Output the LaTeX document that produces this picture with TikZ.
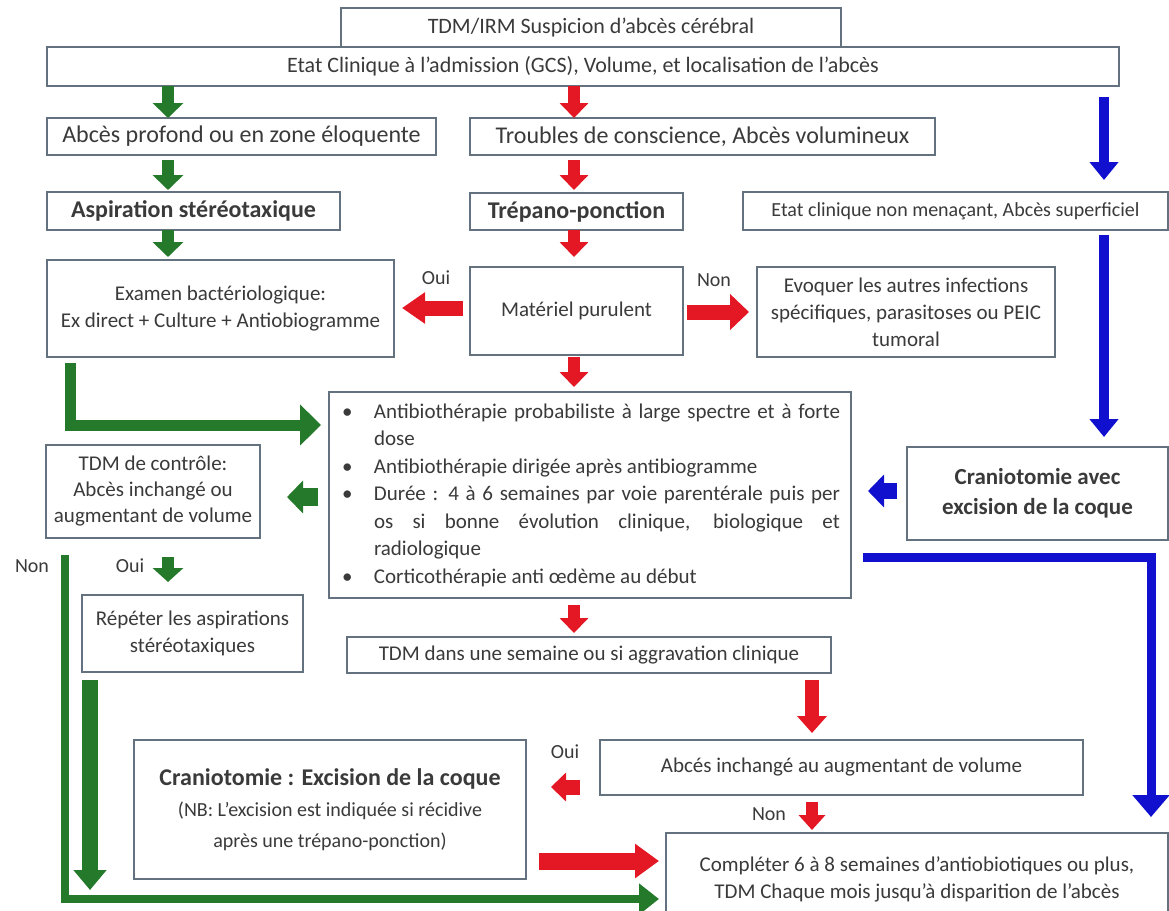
\documentclass[tikz,border=0pt]{standalone}
\usepackage{fontspec}
\setmainfont{Carlito}
\usetikzlibrary{arrows.meta}
\definecolor{gcol}{RGB}{36,122,42}
\definecolor{rcol}{RGB}{228,24,36}
\definecolor{bcol}{RGB}{16,16,206}
\definecolor{bord}{RGB}{100,114,128}
\definecolor{txt}{RGB}{58,58,58}
\newcommand\fsz[2]{\fontsize{#1}{#2}\selectfont}
\newcommand\itm[1]{\par\noindent\hangindent=34pt\hangafter=1\makebox[34pt][l]{\hspace{2pt}\textbullet}#1}
\tikzset{
  box/.style={draw=bord, line width=2pt, fill=white, anchor=north west, inner sep=0pt, outer sep=0pt, text=txt, align=center},
  lbl/.style={text=txt, inner sep=0pt, font=\fsz{20}{24}},
  sg/.style={gcol, line width=12pt, line join=miter, -{Triangle[width=30pt,length=15pt]}},
  sr/.style={rcol, line width=12pt, line join=miter, -{Triangle[width=28pt,length=15pt]}},
  sb/.style={bcol, line width=10pt, line join=miter, -{Triangle[width=28pt,length=18pt]}}
}
\begin{document}
\begin{tikzpicture}[x=1pt,y=-1pt]
\useasboundingbox[fill=white] (0,0) rectangle (1169,910);

% column / row helpers
\coordinate (cG) at (168,0);
\coordinate (cR) at (574,0);
\coordinate (cB) at (1104,0);
\coordinate (cE) at (70,0);
\coordinate (cO) at (65,0);
\coordinate (cI) at (90,0);
\coordinate (cR2) at (812,0);
\coordinate (cBr) at (1151,0);
\coordinate (rOui) at (0,308);
\coordinate (rNon) at (0,312);
\coordinate (rE) at (0,425);
\coordinate (rC) at (0,497);
\coordinate (rBl) at (0,491);
\coordinate (rBh) at (0,557);
\coordinate (rBot) at (0,899);
\coordinate (rOui2) at (0,787);
\coordinate (rRed) at (0,861);
\coordinate (gjoin) at (90,890);

% boxes
\node[box,minimum width=500pt,minimum height=39pt,font=\fsz{22}{26}] (top) at (341,8) {TDM/IRM Suspicion d’abcès cérébral};
\node[box,minimum width=1072pt,minimum height=39pt,font=\fsz{22}{26}] (etat) at (47,47) {Etat Clinique à l’admission (GCS), Volume, et localisation de l’abcès};
\node[box,minimum width=389pt,minimum height=37pt,font=\fsz{24}{28}] (profond) at (47,118) {Abcès profond ou en zone éloquente};
\node[box,minimum width=465pt,minimum height=37pt,font=\fsz{24}{28}] (troubles) at (470,118) {Troubles de conscience, Abcès volumineux};
\node[box,minimum width=293pt,minimum height=38pt,font=\fsz{24}{28}\bfseries] (aspi) at (47,192) {Aspiration stéréotaxique};
\node[box,minimum width=213pt,minimum height=37pt,font=\fsz{24}{28}\bfseries] (trepano) at (470,193) {Trépano-ponction};
\node[box,minimum width=425pt,minimum height=38pt,font=\fsz{20}{24}] (nonmen) at (743,192) {Etat clinique non menaçant, Abcès superficiel};
\node[box,minimum width=347pt,minimum height=97pt,font=\fsz{21}{27}] (examen) at (47,260) {Examen bactériologique:\\Ex direct + Culture + Antiobiogramme};
\node[box,minimum width=213pt,minimum height=88pt,font=\fsz{21}{26}] (materiel) at (470,267) {Matériel purulent};
\node[box,minimum width=298pt,minimum height=90pt,font=\fsz{21}{27}] (evoquer) at (757,267) {Evoquer les autres infections\\spécifiques, parasitoses ou PEIC\\tumoral};
\node[box,minimum width=522pt,minimum height=206pt,align=left] (big) at (329,392) {\parbox{500pt}{\fsz{21}{27.5}\hyphenpenalty=10000\relax
\itm{Antibiothérapie probabiliste à large spectre et à forte\linebreak dose}
\itm{Antibiothérapie dirigée après antibiogramme}
\itm{Durée : 4 à 6 semaines par voie parentérale puis per\linebreak os si bonne évolution clinique, biologique et\linebreak radiologique}
\itm{Corticothérapie anti œdème au début}}};
\node[box,minimum width=214pt,minimum height=93pt,font=\fsz{21}{26}] (controle) at (46,445) {TDM de contrôle:\\Abcès inchangé ou\\augmentant de volume};
\node[box,minimum width=261pt,minimum height=93pt,font=\fsz{23}{30}\bfseries] (cranavec) at (907,447) {Craniotomie avec\\excision de la coque};
\node[box,minimum width=221pt,minimum height=77pt,font=\fsz{21}{27}] (repeter) at (82,595) {Répéter les aspirations\\stéréotaxiques};
\node[box,minimum width=484pt,minimum height=36pt,font=\fsz{21}{25}] (tdmsem) at (347,637) {TDM dans une semaine ou si aggravation clinique};
\node[box,minimum width=483pt,minimum height=55pt,font=\fsz{21}{25}] (inchange) at (600,740) {Abcés inchangé au augmentant de volume};
\node[box,minimum width=392pt,minimum height=139pt,font=\fsz{20}{31}] (cranexc) at (134,740) {{\fsz{24}{34}\bfseries Craniotomie : Excision de la coque}\\(NB: L’excision est indiquée si récidive\\après une trépano-ponction)};
\node[box,minimum width=502pt,minimum height=92pt,font=\fsz{21}{27}] (final) at (666,833) {Compléter 6 à 8 semaines d’antiobiotiques ou plus,\\TDM Chaque mois jusqu’à disparition de l’abcès};

% labels
\node[lbl] (oui1) at (436,278) {Oui};
\node[lbl] (non1) at (714,280) {Non};
\node[lbl] (non2) at (32,566) {Non};
\node[lbl] (oui2) at (130,566) {Oui};
\node[lbl] (oui3) at (565,752) {Oui};
\node[lbl] (non3) at (769,814) {Non};

% green column
\draw[sg] (etat.south -| cG) -- (profond.north -| cG);
\draw[sg, shorten <=5pt, shorten >=2pt] (profond.south -| cG) -- (aspi.north -| cG);
\draw[sg, shorten >=3pt] (aspi.south -| cG) -- (examen.north -| cG);
\draw[gcol, line width=11pt, line join=miter, -{Triangle[width=40pt,length=21pt]}, shorten <=6pt, shorten >=8pt]
  (examen.south -| cE) -- (cE |- rE) -- (big.west |- rE);
\draw[gcol, line width=18pt, -{Triangle[width=32pt,length=16pt]}, shorten <=11pt, shorten >=27pt]
  (big.west |- rC) -- (controle.east |- rC);
\draw[gcol, line width=12pt, -{Triangle[width=30pt,length=14pt]}, shorten <=19pt, shorten >=13pt]
  (controle.south -| cG) -- (repeter.north -| cG);
\draw[gcol, line width=8pt, line join=miter, -{Triangle[width=30pt,length=20pt]}, shorten <=17pt, shorten >=7pt]
  (controle.south -| cO) -- (cO |- rBot) -- (final.west |- rBot);
\draw[gcol, line width=16pt, -{Triangle[width=32pt,length=20pt]}, shorten <=8pt]
  (repeter.south -| cI) -- (gjoin);

% red column
\draw[sr] (etat.south -| cR) -- (troubles.north -| cR);
\draw[sr, shorten <=5pt, shorten >=3pt] (troubles.south -| cR) -- (trepano.north -| cR);
\draw[sr, shorten >=10pt] (trepano.south -| cR) -- (materiel.north -| cR);
\draw[rcol, line width=15pt, -{Triangle[width=30pt,length=23pt]}, shorten <=7pt, shorten >=8pt]
  (materiel.west |- rOui) -- (examen.east |- rOui);
\draw[rcol, line width=15pt, -{Triangle[width=35pt,length=19pt]}, shorten <=4pt, shorten >=8pt]
  (materiel.east |- rNon) -- (evoquer.west |- rNon);
\draw[sr, shorten <=2pt, shorten >=5pt] (materiel.south -| cR) -- (big.north -| cR);
\draw[sr, shorten <=7pt, shorten >=4pt] (big.south -| cR) -- (tdmsem.north -| cR);
\draw[rcol, line width=14pt, -{Triangle[width=29pt,length=17pt]}, shorten <=7pt, shorten >=7pt]
  (tdmsem.south -| cR2) -- (inchange.north -| cR2);
\draw[rcol, line width=15pt, -{Triangle[width=28pt,length=15pt]}, shorten <=20pt, shorten >=25pt]
  (inchange.west |- rOui2) -- (cranexc.east |- rOui2);
\draw[rcol, line width=12pt, -{Triangle[width=26pt,length=15pt]}, shorten <=7pt, shorten >=3pt]
  (inchange.south -| cR2) -- (final.north -| cR2);
\draw[rcol, line width=17pt, -{Triangle[width=33pt,length=24pt]}, shorten <=13pt, shorten >=7pt]
  (cranexc.east |- rRed) -- (final.west |- rRed);

% blue column
\draw[sb, shorten <=11pt, shorten >=12pt] (etat.south -| cB) -- (nonmen.north -| cB);
\draw[sb, shorten <=5pt, shorten >=10pt] (nonmen.south -| cB) -- (cranavec.north -| cB);
\draw[bcol, line width=16pt, -{Triangle[width=32pt,length=16pt]}, shorten <=10pt, shorten >=17pt]
  (cranavec.west |- rBl) -- (big.east |- rBl);
\draw[bcol, line width=9pt, line join=miter, -{Triangle[width=36pt,length=22pt]}, shorten <=12pt, shorten >=16pt]
  (big.east |- rBh) -- (cBr |- rBh) -- (final.north -| cBr);
\end{tikzpicture}
\end{document}
